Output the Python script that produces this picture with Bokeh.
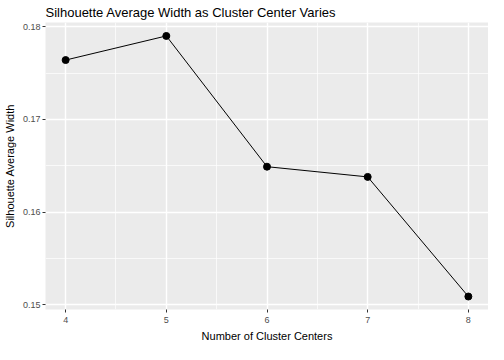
from bokeh.plotting import figure
from bokeh.models import Range1d, FixedTicker, PrintfTickFormatter, Title
from bokeh.embed import file_html
from bokeh.resources import INLINE

centers = [4, 5, 6, 7, 8]
sil_width = [0.1764, 0.1790, 0.1649, 0.1638, 0.1509]
x_ticks = [4, 5, 6, 7, 8]
x_minor = [3.5, 4.5, 5.5, 6.5, 7.5, 8.5]
y_ticks = [0.15, 0.16, 0.17, 0.18]
y_minor = [0.145, 0.155, 0.165, 0.175, 0.185]

FONT = "Liberation Sans"

p = figure(width=488, height=344, output_backend="svg", toolbar_location=None,
           x_range=Range1d(3.8, 8.2), y_range=Range1d(0.14950, 0.18045),
           title="Silhouette Average Width as Cluster Center Varies",
           min_border_left=0, min_border_right=0, min_border_top=0, min_border_bottom=0)

p.background_fill_color = "#EBEBEB"
p.border_fill_color = "white"
p.outline_line_color = None

p.title.text_font = FONT
p.title.text_font_size = "13px"
p.title.text_font_style = "normal"
p.title.text_color = "black"
p.title.align = "left"
p.title.standoff = 5
p.title.offset = 0

p.xaxis.ticker = FixedTicker(ticks=x_ticks, minor_ticks=x_minor)
p.yaxis.ticker = FixedTicker(ticks=y_ticks, minor_ticks=y_minor)
p.yaxis.formatter = PrintfTickFormatter(format="%.2f")

for ax in (p.xaxis, p.yaxis):
    ax.axis_line_color = None
    ax.major_tick_line_color = "#333333"
    ax.major_tick_out = 3
    ax.major_tick_in = 0
    ax.minor_tick_out = 0
    ax.minor_tick_in = 0
    ax.major_label_text_font = FONT
    ax.major_label_text_font_size = "9px"
    ax.major_label_text_color = "#4D4D4D"
    ax.major_label_standoff = 2
    ax.axis_label_text_font = FONT
    ax.axis_label_text_font_size = "11px"
    ax.axis_label_text_font_style = "normal"
    ax.axis_label_text_color = "black"
    ax.axis_label_standoff = 4

p.xaxis.major_label_standoff = 4
p.xaxis.axis_label = "Number of Cluster Centers"
p.xaxis.axis_label_standoff = 4
p.yaxis.axis_label = "Silhouette Average Width"

for g in (p.xgrid, p.ygrid):
    g.grid_line_color = "white"
    g.grid_line_width = 1.4
    g.minor_grid_line_color = "white"
    g.minor_grid_line_width = 0.7

p.line(centers, sil_width, line_color="black", line_width=1)
p.scatter(centers, sil_width, size=7, fill_color="black", line_color="black")

open("out.html", "w").write(file_html(p, INLINE))
